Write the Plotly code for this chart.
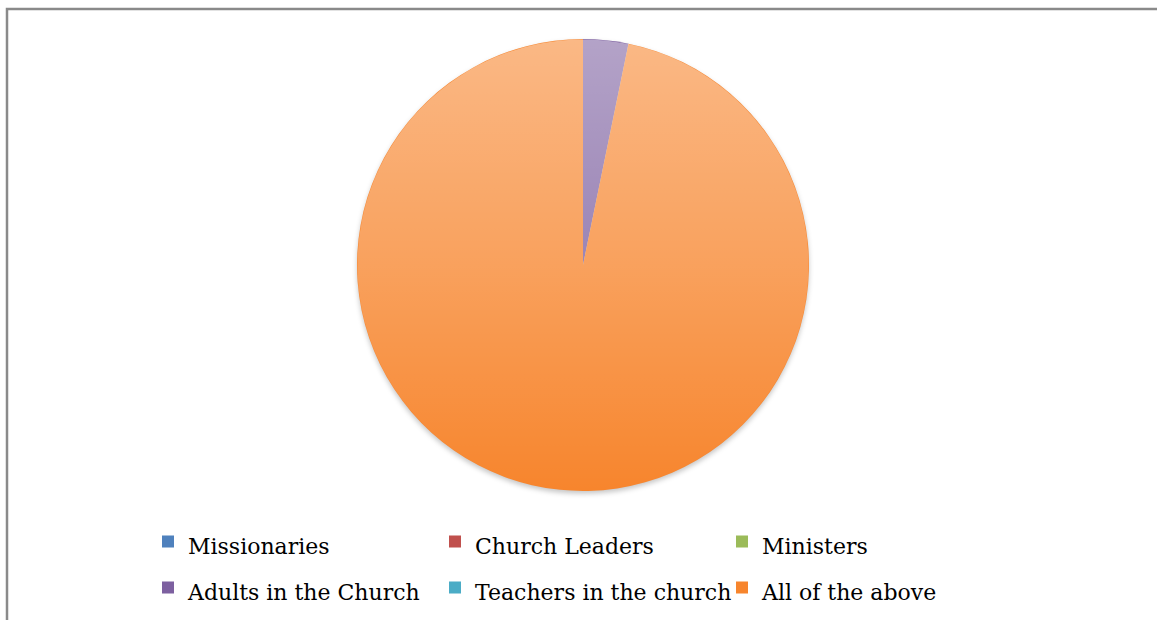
import base64
import plotly.graph_objects as go

# Survey answers and their counts
labels = ["Missionaries", "Church Leaders", "Ministers",
          "Adults in the Church", "Teachers in the church", "All of the above"]
counts = [0, 0, 0, 1, 0, 30]
colors = ["#4F81BD", "#C0504D", "#9BBB59", "#7D60A0", "#4BACC6", "#F7852D"]

W, H = 1157, 620
M_RIGHT = 50          # keeps the horizontal legend at three entries per row
PW = W - M_RIGHT      # plot-area width in px

# pie placement (plot-area fractions): centre (583, 265) px, radius 226 px
pie_x = [(583 - 226) / PW, (583 + 226) / PW]
pie_y = [1 - (265 + 226) / H, 1 - (265 - 226) / H]

# legend entries: the legend font sets the row pitch, the span sets the glyph size
legend_labels = ['<span style="font-size:22px">%s</span>' % t for t in labels]

fig = go.Figure()
fig.add_trace(go.Pie(
    labels=legend_labels,
    values=counts,
    sort=False,
    direction="clockwise",
    rotation=0,
    marker=dict(colors=colors, line=dict(width=0)),
    textinfo="none",
    customdata=labels,
    hovertemplate="%{customdata}: %{value} (%{percent})<extra></extra>",
    domain=dict(x=pie_x, y=pie_y),
))


def svg_uri(svg):
    return "data:image/svg+xml;base64," + base64.b64encode(svg.encode()).decode()


# soft vertical shading laid over the pie: lighter at the top, deeper below
shade_svg = (
    '<svg xmlns="http://www.w3.org/2000/svg" width="400" height="400" viewBox="0 0 400 400">'
    '<defs><linearGradient id="g" x1="0" y1="0" x2="0" y2="1">'
    '<stop offset="0" stop-color="#ffffff" stop-opacity="0.42"/>'
    '<stop offset="0.5" stop-color="#ffffff" stop-opacity="0.23"/>'
    '<stop offset="1" stop-color="#ffffff" stop-opacity="0"/>'
    '</linearGradient></defs>'
    '<circle cx="200" cy="200" r="199.6" fill="url(#g)"/></svg>'
)

# faint drop shadow under the disc
shadow_svg = (
    '<svg xmlns="http://www.w3.org/2000/svg" width="440" height="440" viewBox="0 0 440 440">'
    '<defs><filter id="b" x="-20%" y="-20%" width="140%" height="140%">'
    '<feGaussianBlur stdDeviation="2.5"/></filter></defs>'
    '<circle cx="220" cy="222.5" r="200" fill="#000000" fill-opacity="0.22" filter="url(#b)"/></svg>'
)
pad_x = (pie_x[1] - pie_x[0]) * 0.05
pad_y = (pie_y[1] - pie_y[0]) * 0.05

fig.update_layout(
    width=W, height=H,
    margin=dict(l=0, r=M_RIGHT, t=0, b=0),
    paper_bgcolor="white",
    plot_bgcolor="white",
    showlegend=True,
    legend=dict(
        orientation="h",
        x=148 / PW, xanchor="left",
        y=0.1717, yanchor="top",
        font=dict(family="DejaVu Serif", size=33, color="#000000"),
        entrywidth=242, entrywidthmode="pixels",
        traceorder="normal",
        bgcolor="rgba(0,0,0,0)",
    ),
    images=[
        dict(
            source=svg_uri(shadow_svg), xref="paper", yref="paper",
            x=pie_x[0] - pad_x, y=pie_y[1] + pad_y,
            sizex=pie_x[1] - pie_x[0] + 2 * pad_x, sizey=pie_y[1] - pie_y[0] + 2 * pad_y,
            xanchor="left", yanchor="top", sizing="stretch", layer="below",
        ),
        dict(
            source=svg_uri(shade_svg), xref="paper", yref="paper",
            x=pie_x[0], y=pie_y[1], sizex=pie_x[1] - pie_x[0], sizey=pie_y[1] - pie_y[0],
            xanchor="left", yanchor="top", sizing="stretch", layer="above",
        ),
    ],
    shapes=[dict(
        type="rect", xref="paper", yref="paper",
        x0=7 / PW, x1=1.2, y0=-0.05, y1=1 - 9 / H,
        line=dict(color="#8A8A8A", width=2.5), fillcolor="rgba(0,0,0,0)",
    )],
)

fig.write_html("out.html")
